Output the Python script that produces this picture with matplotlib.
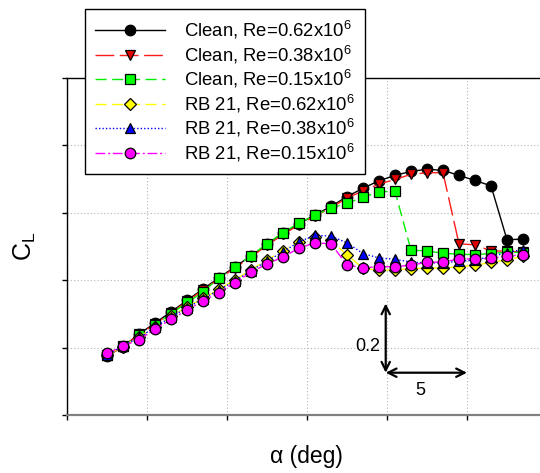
import numpy as np
import matplotlib
matplotlib.use("Agg")
import matplotlib.pyplot as plt

plt.rcParams['font.family'] = ['Liberation Sans', 'DejaVu Sans']
plt.rcParams['mathtext.fontset'] = 'custom'
plt.rcParams['mathtext.rm'] = 'Liberation Sans'
plt.rcParams['mathtext.it'] = 'Liberation Sans'
plt.rcParams['mathtext.bf'] = 'Liberation Sans:bold'

# ---- data ----
alpha = np.arange(-8, 19, 1)  # deg

cl_clean_062 = [0.175, 0.203, 0.240, 0.273, 0.306, 0.340, 0.374, 0.407, 0.440, 0.472,
                0.506, 0.539, 0.567, 0.594, 0.619, 0.648, 0.673, 0.695, 0.711, 0.723,
                0.729, 0.726, 0.711, 0.696, 0.680, 0.520, 0.522]
cl_clean_038 = [0.175, 0.203, 0.239, 0.270, 0.303, 0.337, 0.371, 0.404, 0.437, 0.469,
                0.503, 0.536, 0.564, 0.590, 0.615, 0.644, 0.665, 0.685, 0.699, 0.714,
                0.719, 0.719, 0.508, 0.505, 0.487, 0.486, 0.484]
cl_clean_015 = [0.178, 0.205, 0.236, 0.267, 0.300, 0.334, 0.364, 0.408, 0.439, 0.473,
                0.508, 0.541, 0.570, 0.593, 0.614, 0.628, 0.646, 0.662, 0.664, 0.489,
                0.487, 0.480, 0.477, 0.476, 0.479, 0.483, 0.482]
cl_rb21_062 = [0.178, 0.203, 0.232, 0.261, 0.293, 0.321, 0.346, 0.373, 0.401, 0.431,
               0.460, 0.487, 0.513, 0.527, 0.518, 0.475, 0.436, 0.429, 0.431, 0.434,
               0.436, 0.436, 0.440, 0.444, 0.453, 0.460, 0.471]
cl_rb21_038 = [0.178, 0.205, 0.230, 0.260, 0.291, 0.318, 0.345, 0.371, 0.398, 0.428,
               0.457, 0.484, 0.514, 0.533, 0.531, 0.511, 0.479, 0.466, 0.462, 0.454,
               0.451, 0.452, 0.456, 0.460, 0.470, 0.482, 0.491]
cl_rb21_015 = [0.183, 0.204, 0.224, 0.255, 0.284, 0.311, 0.339, 0.363, 0.393, 0.424,
               0.448, 0.469, 0.495, 0.511, 0.508, 0.445, 0.437, 0.440, 0.440, 0.445,
               0.453, 0.454, 0.463, 0.463, 0.465, 0.472, 0.475]

labels = [r'Clean, Re=0.62x10$\mathregular{^6}$',
          r'Clean, Re=0.38x10$\mathregular{^6}$',
          r'Clean, Re=0.15x10$\mathregular{^6}$',
          r'RB 21, Re=0.62x10$\mathregular{^6}$',
          r'RB 21, Re=0.38x10$\mathregular{^6}$',
          r'RB 21, Re=0.15x10$\mathregular{^6}$']

series = [cl_clean_062, cl_clean_038, cl_clean_015, cl_rb21_062, cl_rb21_038, cl_rb21_015]
styles = [
    dict(color='black', ls='-', marker='o', mfc='black', ms=7.6),
    dict(color='#ff1a1a', ls=(0, (13.5, 4)), marker='v', mfc='#e00000', ms=7.8),
    dict(color='#00ee00', ls=(0, (8, 4)), marker='s', mfc='#00ff00', ms=6.8),
    dict(color='#ffff00', ls=(0, (8, 4)), marker='D', mfc='#ffff00', ms=6.2),
    dict(color='#0000ff', ls=(0, (1, 1.5)), marker='^', mfc='#0000ff', ms=7.3),
    dict(color='#ff00ff', ls=(0, (7, 2, 1.5, 2)), marker='o', mfc='#ff00ff', ms=7.6),
]

W, H = 540, 473
fig = plt.figure(figsize=(W / 100, H / 100), dpi=100)
ax = fig.add_axes([67 / W, 1 - 415 / H, 488 / W, 337 / H])

for y, lab, st in zip(series, labels, styles):
    ax.plot(alpha, y, lw=1.0, mec='black', mew=0.9, label=lab, **st)

ax.set_xlim(-10.5, 20)
ax.set_ylim(0, 1)
ax.set_xticks(np.arange(-10.5, 20, 5))
ax.set_yticks(np.arange(0, 1.01, 0.2))
ax.grid(True, ls=(0, (1, 2)), color='#b4b4b4', lw=0.8)
ax.set_axisbelow(True)
ax.tick_params(direction='out', length=3.6, width=1, color='black',
               labelbottom=False, labelleft=False)
ax.spines['right'].set_visible(False)
ax.spines['left'].set_linewidth(1.0)
ax.spines['top'].set_linewidth(1.0)
ax.spines['bottom'].set_color('#808080')
ax.spines['bottom'].set_linewidth(1.6)

# scale bar
arr = dict(arrowstyle='<->,head_length=0.6,head_width=0.3', lw=1.6, color='black',
           shrinkA=0, shrinkB=0)
ax.annotate('', xy=(9.42, 0.1255), xytext=(9.42, 0.331), arrowprops=arr)
ax.annotate('', xy=(9.42, 0.1255), xytext=(14.5, 0.1255), arrowprops=arr)
ax.text(8.31, 0.203, '0.2', ha='center', va='center', fontsize=13)
ax.text(11.6, 0.074, '5', ha='center', va='center', fontsize=13)

fig.text(306 / W, 1 - 456.7 / H, 'α (deg)', ha='center', va='center', fontsize=16.5)
fig.text(25 / W, 1 - 246 / H, r'$\mathregular{C_L}$', ha='center', va='center',
         rotation=90, fontsize=18)

leg = ax.legend(loc='upper left', bbox_to_anchor=(85 / W, 1 - 9 / H),
                bbox_transform=fig.transFigure, borderaxespad=0, frameon=True,
                fancybox=False, edgecolor='black', framealpha=1, numpoints=1,
                handlelength=3.8, handletextpad=1.0, labelspacing=0.13,
                borderpad=0.55, fontsize=13.3)
leg.get_frame().set_linewidth(1.0)

fig.savefig('out.png', dpi=100)
